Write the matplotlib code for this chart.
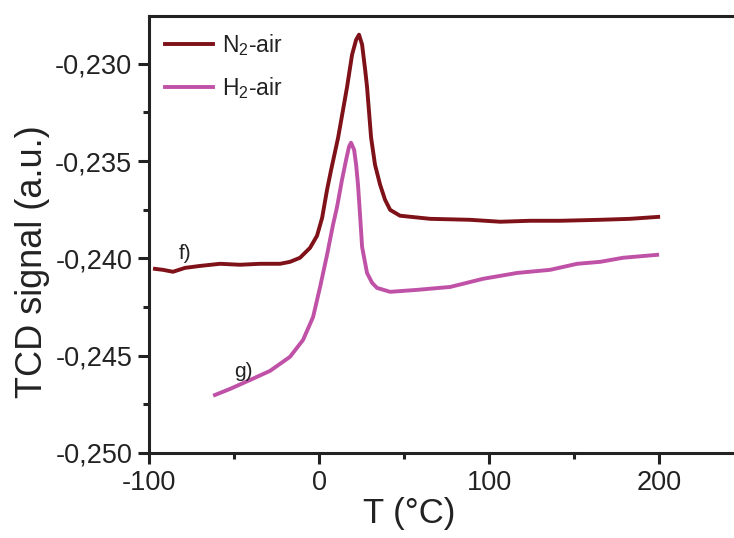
import matplotlib
matplotlib.use("Agg")
import matplotlib.pyplot as plt
from matplotlib.ticker import FuncFormatter, MultipleLocator

plt.rcParams['font.family'] = ['Liberation Sans', 'DejaVu Sans']
plt.rcParams['mathtext.fontset'] = 'custom'
plt.rcParams['mathtext.rm'] = 'Liberation Sans'
plt.rcParams['mathtext.it'] = 'Liberation Sans:italic'
plt.rcParams['mathtext.bf'] = 'Liberation Sans:bold'

# N2-air curve (f)
n2_T = [-96.5, -91.8, -85.9, -78.8, -70.0, -58.2, -46.5, -34.7, -22.9, -17.1,
        -11.2, -5.3, -1.2, 1.8, 4.7, 7.1, 11.2, 14.1, 16.5, 19.4, 21.8, 23.5,
        25.3, 27.1, 28.2, 30.6, 32.9, 35.9, 38.8, 41.8, 47.6, 65.3, 88.8,
        106.5, 124.1, 141.8, 165.3, 182.9, 199.4]
n2_sig = [-0.24054, -0.24059, -0.24069, -0.24049, -0.24039, -0.24028, -0.24033,
          -0.24028, -0.24028, -0.24018, -0.23997, -0.23946, -0.23884, -0.23792,
          -0.23648, -0.23545, -0.23380, -0.23237, -0.23118, -0.22954, -0.22877,
          -0.22851, -0.22902, -0.23031, -0.23118, -0.23380, -0.23519, -0.23622,
          -0.23699, -0.23751, -0.23781, -0.23797, -0.23802, -0.23812, -0.23807,
          -0.23807, -0.23802, -0.23797, -0.23787]

# H2-air curve (g)
h2_T = [-61.2, -52.4, -40.6, -28.8, -17.1, -9.4, -3.5, 0.6, 4.7, 8.2, 10.6,
        13.5, 15.9, 17.6, 18.8, 20.6, 21.8, 22.9, 24.1, 25.3, 28.2, 31.2, 34.1,
        41.8, 57.6, 77.1, 96.5, 116.5, 135.9, 151.8, 165.3, 178.8, 198.8]
h2_sig = [-0.24702, -0.24671, -0.24625, -0.24578, -0.24506, -0.24419, -0.24301,
          -0.24147, -0.23982, -0.23828, -0.23735, -0.23596, -0.23494, -0.23427,
          -0.23406, -0.23442, -0.23519, -0.23622, -0.23776, -0.23941, -0.24075,
          -0.24126, -0.24152, -0.24172, -0.24162, -0.24147, -0.24105, -0.24075,
          -0.24059, -0.24028, -0.24018, -0.23997, -0.23982]

fig = plt.figure(figsize=(7.34, 5.38), dpi=100)
ax = fig.add_axes([0.203, 0.158, 0.797, 0.813])

ax.plot(n2_T, n2_sig, color='#7f1118', lw=2.8, label='N$_2$-air', solid_joinstyle='round')
ax.plot(h2_T, h2_sig, color='#bf52a7', lw=2.8, label='H$_2$-air', solid_joinstyle='round')

ax.text(-78.8, -0.23977, 'f)', fontsize=15, ha='center', va='center', color='#222222')
ax.text(-44.7, -0.24583, 'g)', fontsize=15, ha='center', va='center', color='#222222')

ax.set_xlim(-100, 244)
ax.set_ylim(-0.250, -0.22753)

ax.xaxis.set_major_locator(MultipleLocator(100))
ax.xaxis.set_minor_locator(MultipleLocator(50))
ax.yaxis.set_major_locator(MultipleLocator(0.005))
ax.yaxis.set_minor_locator(MultipleLocator(0.0025))
ax.yaxis.set_major_formatter(FuncFormatter(lambda v, p: '{:.3f}'.format(v).replace('.', ',')))
ax.xaxis.set_major_formatter(FuncFormatter(lambda v, p: '{:.0f}'.format(v)))

ax.spines['right'].set_visible(False)
for s in ['left', 'bottom', 'top']:
    ax.spines[s].set_linewidth(2.2)
    ax.spines[s].set_color('#222222')

ax.tick_params(which='major', direction='out', length=8, width=2.2, labelsize=19.5,
               colors='#222222', pad=4)
ax.tick_params(which='minor', direction='out', length=4, width=2.2, colors='#222222')

ax.set_xlabel('T (°C)', fontsize=25, color='#222222')
ax.set_ylabel('TCD signal (a.u.)', fontsize=26, color='#222222')
ax.xaxis.set_label_coords(0.444, -0.1)
ax.yaxis.set_label_coords(-0.17, 0.437)

leg = ax.legend(loc='upper left', bbox_to_anchor=(0.0, 1.0), frameon=False,
                fontsize=16.5, handlelength=2.1, handletextpad=0.4, labelspacing=0.75,
                borderaxespad=0.3)
for t in leg.get_texts():
    t.set_color('#222222')

fig.savefig('out.png', dpi=100)
